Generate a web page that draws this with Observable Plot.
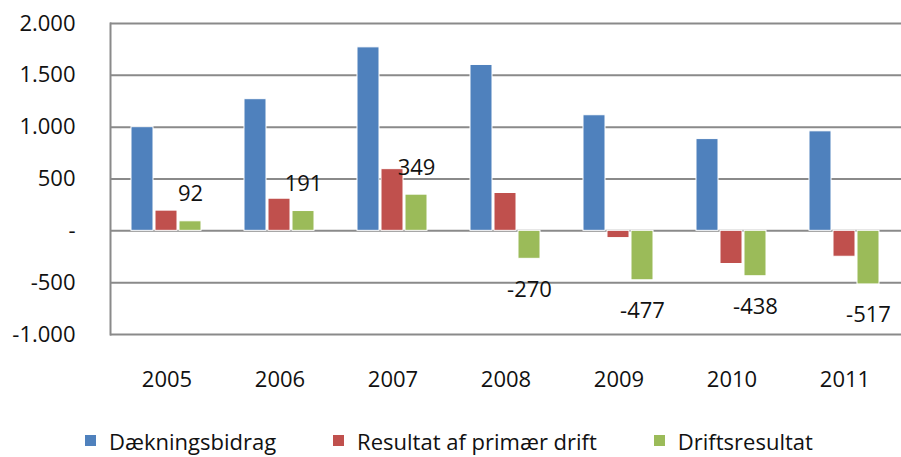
<!DOCTYPE html>
<html>
<head>
<meta charset="utf-8">
<script src="https://cdn.jsdelivr.net/npm/d3@7"></script>
<script src="https://cdn.jsdelivr.net/npm/@observablehq/plot@0.6"></script>
<style>
  body { margin: 0; background: #fff; }
  #chart { width: 901px; }
  .legend { position: relative; width: 901px; height: 57px; font-family: "Open Sans", sans-serif; font-size: 22px; color: #111; display: flex; align-items: center; padding-left: 85px; padding-top: 24px; box-sizing: border-box; }
  .item { display: flex; align-items: center; margin-right: 57px; }
  .sw { width: 11px; height: 11px; margin-right: 13px; }
</style>
</head>
<body>
<div id="chart"></div>
<script>
const years = ["2005", "2006", "2007", "2008", "2009", "2010", "2011"];
const series = ["Dækningsbidrag", "Resultat af primær drift", "Driftsresultat"];
const colors = ["#4F81BD", "#C0504D", "#9BBB59"];
const daekningsbidrag = [1000, 1270, 1770, 1600, 1115, 885, 960];
const primaerDrift = [195, 310, 595, 365, -70, -320, -250];
const driftsresultat = [92, 191, 349, -270, -477, -438, -517];
const yTicks = [-1000, -500, 0, 500, 1000, 1500, 2000];
const yTickLabels = ["-1.000", "-500", "-", "500", "1.000", "1.500", "2.000"];

const valuesBySeries = [daekningsbidrag, primaerDrift, driftsresultat];
const data = years.flatMap((yr, i) => series.map((s, j) => ({year: yr, series: s, value: valuesBySeries[j][i]})));
const drift = data.filter(d => d.series === series[2]);

const plot = Plot.plot({
  width: 901,
  height: 400,
  marginTop: 23,
  marginBottom: 66,
  marginLeft: 110,
  marginRight: 0,
  style: {fontFamily: "Open Sans, sans-serif", fontSize: "22px", color: "#111", background: "#fff", overflow: "visible"},
  fx: {domain: years, padding: 0, label: null},
  x: {domain: series, paddingInner: 0.08, paddingOuter: 0.85, axis: null},
  y: {domain: [-1000, 2000]},
  color: {domain: series, range: colors},
  marks: [
    Plot.gridY(yTicks, {stroke: "#8a8a8a", strokeOpacity: 1, strokeWidth: 2}),
    Plot.axisY(yTicks, {tickSize: 0, tickPadding: 35, label: null, tickFormat: d => yTickLabels[yTicks.indexOf(d)]}),
    Plot.axisFx({anchor: "bottom", tickSize: 0, tickPadding: 37, label: null}),
    Plot.frame({anchor: "left", facetAnchor: "left", stroke: "#8a8a8a", strokeWidth: 2}),
    Plot.barY(data, {fx: "year", x: "series", y: "value", fill: "series", stroke: "#ffffff", strokeWidth: 1}),
    Plot.text(drift.filter(d => d.value >= 0), {fx: "year", x: "series", y: "value", text: d => String(d.value), dy: -27, fill: "#111"}),
    Plot.text(drift.filter(d => d.value < 0), {fx: "year", x: "series", y: "value", text: d => String(d.value), dy: 31, fill: "#111"})
  ]
});
document.getElementById("chart").appendChild(plot);

const legend = document.createElement("div");
legend.className = "legend";
series.forEach((s, i) => {
  const item = document.createElement("div");
  item.className = "item";
  const sw = document.createElement("span");
  sw.className = "sw";
  sw.style.background = colors[i];
  const label = document.createElement("span");
  label.textContent = s;
  item.appendChild(sw);
  item.appendChild(label);
  legend.appendChild(item);
});
document.getElementById("chart").appendChild(legend);
</script>
</body>
</html>
